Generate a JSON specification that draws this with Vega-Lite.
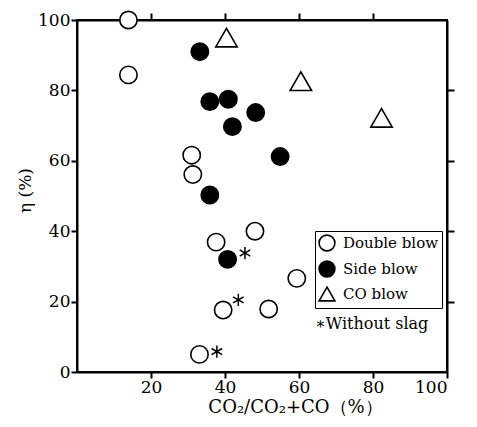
{
  "$schema": "https://vega.github.io/schema/vega-lite/v6.json",
  "width": 370,
  "height": 352,
  "autosize": {"type": "none"},
  "padding": {"left": 77, "top": 20, "right": 30, "bottom": 55},
  "background": "white",
  "config": {
    "view": {"stroke": "black", "strokeWidth": 2},
    "font": "DejaVu Serif",
    "axis": {
      "grid": false,
      "labelFont": "DejaVu Serif", "labelFontSize": 17, "labelColor": "black",
      "titleFont": "DejaVu Serif", "titleFontSize": 17, "titleFontWeight": "normal", "titleColor": "black"
    }
  },
  "datasets": {
    "pts": [
      {"x": 13.9, "y": 100, "type": "Double blow"},
      {"x": 13.9, "y": 84.4, "type": "Double blow"},
      {"x": 31.0, "y": 61.6, "type": "Double blow"},
      {"x": 31.3, "y": 56.1, "type": "Double blow"},
      {"x": 48.1, "y": 40.0, "type": "Double blow"},
      {"x": 37.6, "y": 36.9, "type": "Double blow"},
      {"x": 59.4, "y": 26.6, "type": "Double blow"},
      {"x": 39.5, "y": 17.6, "type": "Double blow"},
      {"x": 51.8, "y": 17.9, "type": "Double blow"},
      {"x": 33.1, "y": 5.0, "type": "Double blow"},
      {"x": 33.2, "y": 91.0, "type": "Side blow"},
      {"x": 35.9, "y": 76.8, "type": "Side blow"},
      {"x": 40.9, "y": 77.5, "type": "Side blow"},
      {"x": 48.3, "y": 73.7, "type": "Side blow"},
      {"x": 42.0, "y": 69.7, "type": "Side blow"},
      {"x": 54.9, "y": 61.2, "type": "Side blow"},
      {"x": 35.9, "y": 50.3, "type": "Side blow"},
      {"x": 40.7, "y": 32.0, "type": "Side blow"},
      {"x": 40.4, "y": 95.0, "type": "CO blow"},
      {"x": 60.5, "y": 82.6, "type": "CO blow"},
      {"x": 82.3, "y": 72.2, "type": "CO blow"}
    ],
    "stars": [
      {"x": 45.4, "y": 33.8},
      {"x": 43.6, "y": 20.5},
      {"x": 37.8, "y": 5.8}
    ],
    "note": [
      {"x": 64.3, "y": 13.6, "label": "∗Without slag"}
    ]
  },
  "layer": [
    {
      "data": {"name": "pts"},
      "mark": {"type": "point", "filled": true, "stroke": "black", "strokeWidth": 1.6, "opacity": 1},
      "encoding": {
        "x": {"field": "x", "type": "quantitative",
              "scale": {"domain": [0, 100], "nice": false, "zero": false},
              "axis": {"orient": "bottom", "values": [20, 40, 60, 80, 100], "ticks": true, "tickSize": 6, "tickColor": "black", "tickWidth": 2, "domain": true, "domainColor": "black", "domainWidth": 2, "labelPadding": 1,
                       "title": "CO₂/CO₂+CO（%）", "titleFontSize": 18, "titleX": 218, "titleY": 40, "titleBaseline": "alphabetic", "titleAlign": "center"}},
        "y": {"field": "y", "type": "quantitative",
              "scale": {"domain": [0, 100], "nice": false, "zero": false},
              "axis": {"orient": "left", "values": [0, 20, 40, 60, 80, 100], "ticks": true, "tickSize": 6, "tickColor": "black", "tickWidth": 2, "domain": true, "domainColor": "black", "domainWidth": 2, "labelPadding": 1,
                       "title": "η (%)", "titleX": -52, "titleY": 170, "titleAngle": 270, "titleBaseline": "middle", "titleAlign": "center"}},
        "color": {"field": "type", "type": "nominal",
                  "scale": {"domain": ["Double blow", "Side blow", "CO blow"], "range": ["white", "black", "white"]},
                  "legend": {"orient": "none", "legendX": 238, "legendY": 211, "title": null,
                             "strokeColor": "black", "padding": 3, "rowPadding": 2,
                             "symbolStrokeColor": "black", "symbolStrokeWidth": 1.6, "symbolSize": 250,
                             "labelFont": "DejaVu Serif", "labelFontSize": 15, "labelColor": "black", "labelOffset": 7}},
        "shape": {"field": "type", "type": "nominal",
                  "scale": {"domain": ["Double blow", "Side blow", "CO blow"], "range": ["circle", "circle", "triangle-up"]},
                  "legend": {"orient": "none", "legendX": 238, "legendY": 211, "title": null,
                             "strokeColor": "black", "padding": 3, "rowPadding": 2,
                             "symbolStrokeColor": "black", "symbolStrokeWidth": 1.6, "symbolSize": 250,
                             "labelFont": "DejaVu Serif", "labelFontSize": 15, "labelColor": "black", "labelOffset": 7}},
        "size": {"condition": {"test": "datum.type === 'CO blow'", "value": 460}, "value": 300}
      }
    },
    {
      "data": {"name": "stars"},
      "mark": {"type": "point", "filled": false, "color": "black", "strokeWidth": 1.5, "opacity": 1, "size": 150,
               "shape": "M0,-1L0,1M-0.866,-0.5L0.866,0.5M-0.866,0.5L0.866,-0.5"},
      "encoding": {
        "x": {"field": "x", "type": "quantitative", "axis": null},
        "y": {"field": "y", "type": "quantitative", "axis": null}
      }
    },
    {
      "data": {"name": "note"},
      "mark": {"type": "text", "align": "left", "baseline": "middle", "font": "DejaVu Serif", "fontSize": 16, "color": "black"},
      "encoding": {
        "x": {"field": "x", "type": "quantitative",
              "axis": {"orient": "top", "values": [20, 40, 60, 80], "ticks": true, "tickSize": 7, "tickColor": "black", "tickWidth": 2, "domain": true, "domainColor": "black", "domainWidth": 2, "labels": false, "title": null}},
        "y": {"field": "y", "type": "quantitative",
              "axis": {"orient": "right", "values": [20, 40, 60, 80], "ticks": true, "tickSize": 7, "tickColor": "black", "tickWidth": 2, "domain": true, "domainColor": "black", "domainWidth": 2, "labels": false, "title": null}},
        "text": {"field": "label"}
      }
    }
  ],
  "resolve": {"axis": {"x": "independent", "y": "independent"}}
}
